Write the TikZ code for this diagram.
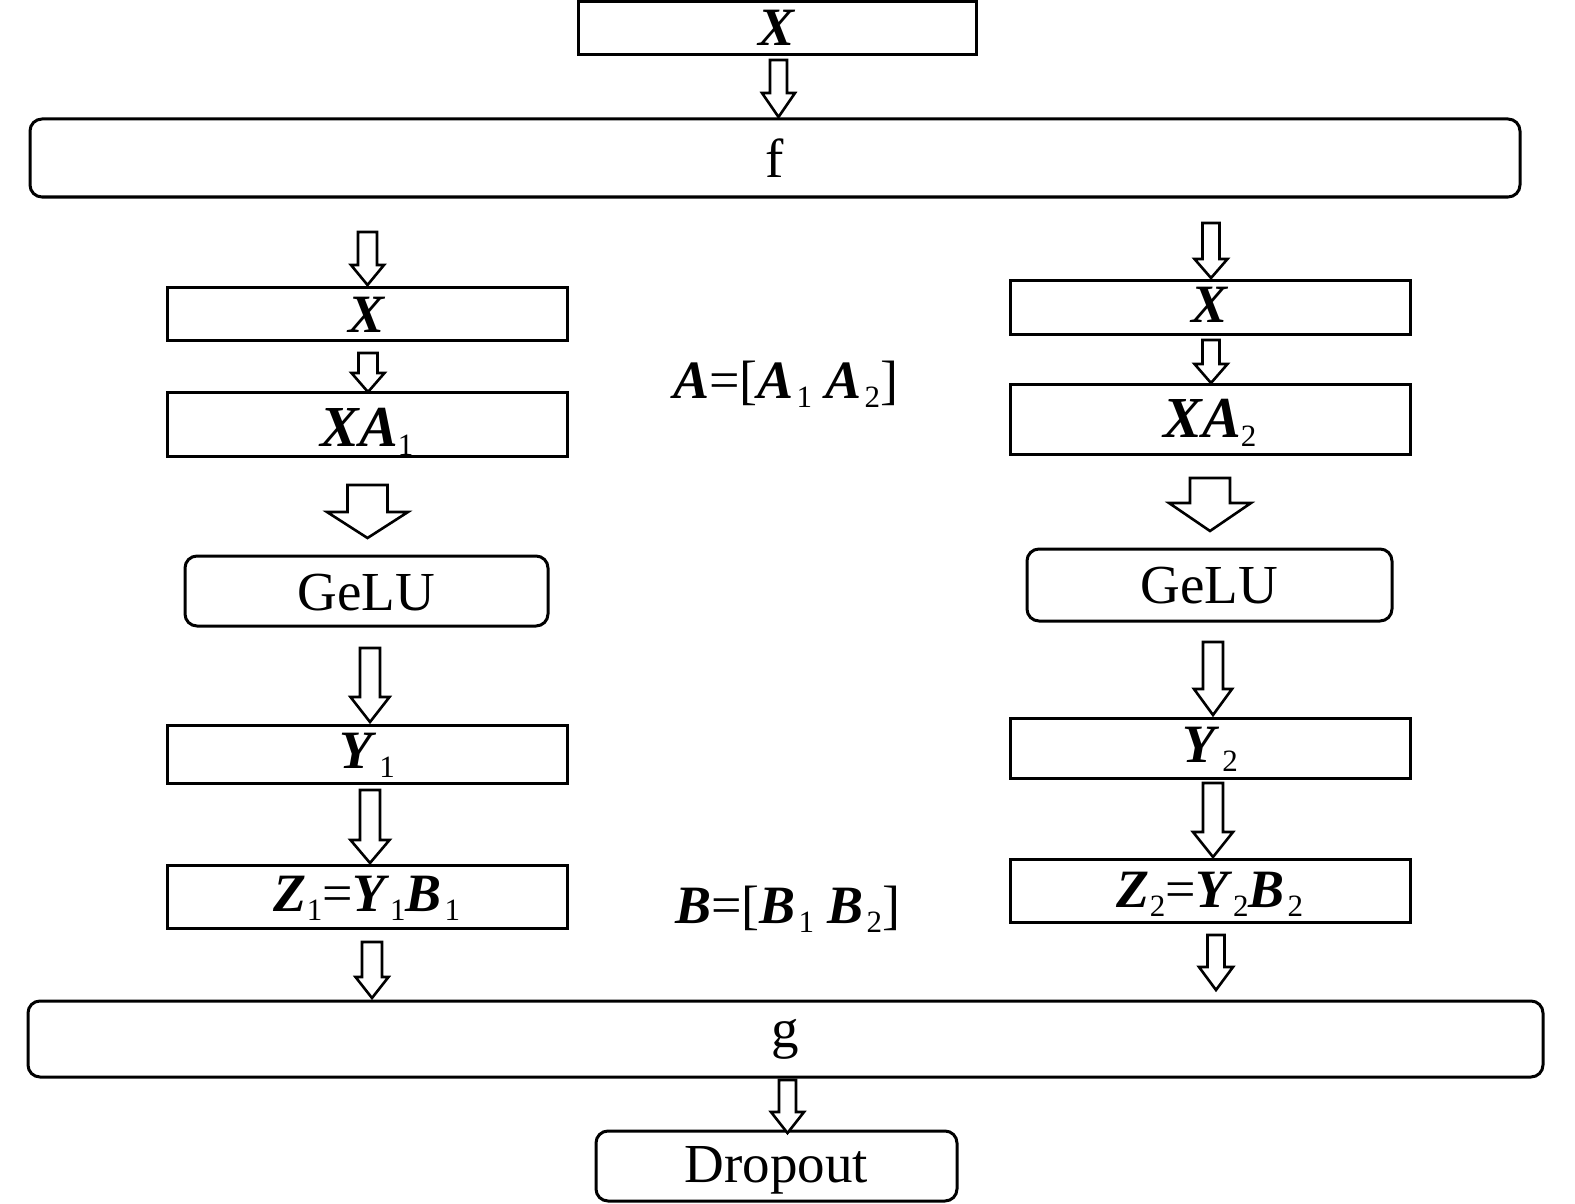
\documentclass[tikz,border=0pt]{standalone}
\usepackage{fontspec}
\setmainfont{Liberation Serif}
\newcommand{\bi}[1]{\textbf{\textit{#1}}}
\newcommand{\mysb}[1]{\raisebox{-9pt}{\fontsize{31}{31}\selectfont\mdseries\upshape #1}}
\newcommand{\gp}{\kern3pt}
\newcommand{\fatarr}[7]{\draw[fatarrow] (#2-#6,#3) coordinate (#1) -- (#2+#6,#3) -- (#2+#6,#4) -- (#2+#7,#4) -- (#2,#5) -- (#2-#7,#4) -- (#2-#6,#4) -- cycle;}
\tikzset{
  sq/.style={draw, line width=3pt, inner sep=0pt, align=center},
  rd/.style={sq, rounded corners=12pt},
  bl/.style={text height=#1, text depth=0pt},
  mathtxt/.style={font=\fontsize{54}{60}\selectfont},
  plaintxt/.style={font=\fontsize{55}{60}\selectfont},
  fatarrow/.style={draw, line width=2.6pt, line join=miter, fill=white}
}
\begin{document}
\begin{tikzpicture}[x=1pt,y=-1pt]
\useasboundingbox (0,0) rectangle (1575,1204);

% top
\node[sq, mathtxt, bl=35pt, minimum width=398pt, minimum height=53pt] (tX) at (777,28.5) {\bi{X}};
\node[rd, plaintxt, bl=40pt, minimum width=1490pt, minimum height=78pt] (f) at (775,158) {f};

% left column
\node[sq, mathtxt, bl=37pt, minimum width=400pt, minimum height=53pt] (XL) at (367,313.5) {\bi{X}};
\node[sq, bl=44pt, minimum width=400pt, minimum height=64pt, font=\fontsize{58}{60}\selectfont] (XAL) at (367,424) {\bi{XA}\mysb{1}};
\node[rd, plaintxt, bl=38pt, minimum width=363pt, minimum height=70pt] (GL) at (366.5,591) {GeLU};
\node[sq, mathtxt, bl=28pt, minimum width=400pt, minimum height=58pt] (YL) at (367,754) {\bi{Y}\gp\mysb{1}};
\node[sq, mathtxt, bl=30pt, minimum width=400pt, minimum height=63pt] (ZL) at (367,896.5) {\bi{Z}\mysb{1}=\bi{Y}\mysb{1}\bi{B}\gp\mysb{1}};

% right column
\node[sq, mathtxt, bl=30pt, minimum width=400pt, minimum height=54pt] (XR) at (1210,307) {\bi{X}};
\node[sq, bl=36pt, minimum width=400pt, minimum height=70pt, font=\fontsize{58}{60}\selectfont] (XAR) at (1210,419) {\bi{XA}\mysb{2}};
\node[rd, plaintxt, bl=36pt, minimum width=365pt, minimum height=72pt] (GR) at (1209.5,585) {GeLU};
\node[sq, mathtxt, bl=28pt, minimum width=400pt, minimum height=60pt] (YR) at (1210,748) {\bi{Y}\gp\mysb{2}};
\node[sq, mathtxt, bl=33pt, minimum width=400pt, minimum height=63pt] (ZR) at (1210,890.5) {\bi{Z}\mysb{2}=\bi{Y}\mysb{2}\bi{B}\gp\mysb{2}};

% middle labels
\node[mathtxt, inner sep=0pt, anchor=base west] (Alab) at (673,398) {\bi{A}=[\bi{A}\gp\mysb{1} \bi{A}\gp\mysb{2}]};
\node[mathtxt, inner sep=0pt, anchor=base west] (Blab) at (675,923) {\bi{B}=[\bi{B}\gp\mysb{1} \bi{B}\gp\mysb{2}]};

% bottom
\node[rd, plaintxt, bl=16pt, minimum width=1515pt, minimum height=76pt] (g) at (785.5,1039) {g};
\node[rd, plaintxt, bl=32pt, minimum width=361pt, minimum height=70pt] (D) at (776.5,1166) {Dropout};

% arrows
\fatarr{a0}{778.5}{60}{93}{117}{8.5}{16.5}
\fatarr{aL1}{367.5}{232}{265}{285}{9.5}{16.5}
\fatarr{aL2}{368}{353}{373}{392}{9.5}{16.5}
\fatarr{aL3}{367.5}{485}{512}{538}{20}{40.5}
\fatarr{aL4}{370}{648}{697}{722}{10}{19.5}
\fatarr{aL5}{370}{790}{840}{863}{10}{19.5}
\fatarr{aL6}{372}{942}{977}{998}{10}{16.5}
\fatarr{aR1}{1211}{223}{259}{278}{8.5}{16.5}
\fatarr{aR2}{1211}{340}{364}{383}{8.5}{16.5}
\fatarr{aR3}{1210}{478}{503}{531}{20}{41}
\fatarr{aR4}{1213}{642}{689}{715}{10}{19}
\fatarr{aR5}{1213}{783}{832}{857}{10}{20}
\fatarr{aR6}{1216}{935}{967}{990}{8.5}{17}
\fatarr{aD}{787.5}{1080}{1112}{1133}{8.5}{16.5}
\end{tikzpicture}
\end{document}
